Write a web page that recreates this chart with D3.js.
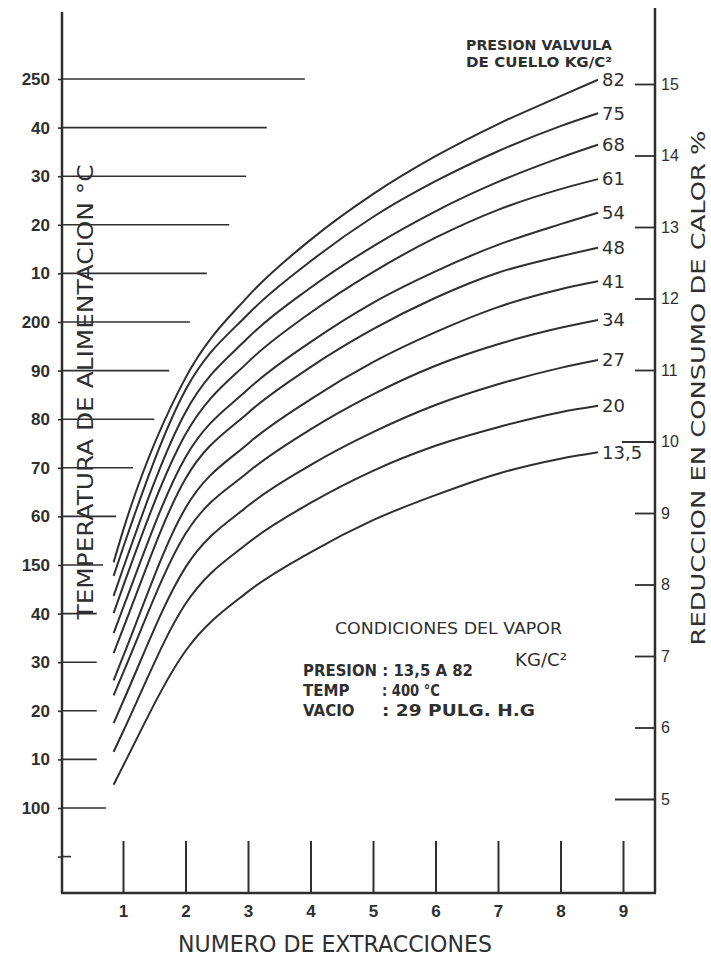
<!DOCTYPE html>
<html>
<head>
<meta charset="utf-8">
<script src="https://cdn.jsdelivr.net/npm/d3@7"></script>
<style>
  body { margin: 0; background: #fff; }
  svg { display: block; font-family: "DejaVu Sans", sans-serif; }
</style>
</head>
<body>
<svg id="chart" width="711" height="960"></svg>
<script>
// number of extractions where each curve was read
const extractions = [0.85, 1, 2, 3, 4, 5, 6, 7, 8, 8.6];

// neck valve pressure (kg/cm2), one curve each
const pressures = ["82", "75", "68", "61", "54", "48", "41", "34", "27", "20", "13,5"];

// heat consumption reduction %
const red82  = [8.31, 8.75, 10.89, 12.03, 12.82, 13.46, 13.99, 14.44, 14.83, 15.06];
const red75  = [8.12, 8.51, 10.72, 11.78, 12.52, 13.14, 13.64, 14.06, 14.41, 14.59];
const red68  = [7.84, 8.22, 10.41, 11.45, 12.15, 12.73, 13.22, 13.63, 13.97, 14.15];
const red61  = [7.60, 7.97, 10.10, 11.11, 11.80, 12.37, 12.85, 13.24, 13.53, 13.67];
const red54  = [7.32, 7.67,  9.78, 10.73, 11.39, 11.94, 12.38, 12.75, 13.04, 13.20];
const red48  = [7.04, 7.38,  9.48, 10.40, 11.04, 11.57, 12.01, 12.36, 12.59, 12.71];
const red41  = [6.66, 6.99,  9.07,  9.97, 10.59, 11.11, 11.53, 11.88, 12.13, 12.24];
const red34  = [6.45, 6.76,  8.71,  9.57, 10.17, 10.66, 11.06, 11.36, 11.59, 11.70];
const red27  = [6.06, 6.36,  8.24,  9.10,  9.67, 10.13, 10.51, 10.80, 11.03, 11.14];
const red20  = [5.66, 5.94,  7.73,  8.58,  9.14,  9.59,  9.94, 10.20, 10.41, 10.50];
const red135 = [5.20, 5.46,  7.07,  7.90,  8.45,  8.90,  9.25,  9.55,  9.76,  9.85];
const reductions = [red82, red75, red68, red61, red54, red48, red41, red34, red27, red20, red135];

// left scale: feed water temperature, with the hand-written labels
const tempTicks  = [250, 240, 230, 220, 210, 200, 190, 180, 170, 160, 150, 140, 130, 120, 110, 100, 90];
const tempLabels = ["250", "40", "30", "20", "10", "200", "90", "80", "70", "60", "150", "40", "30", "20", "10", "100", ""];
// how far each temperature line runs to the right, in extraction units
const tempLineEnd = [3.91, 3.30, 2.97, 2.70, 2.34, 2.07, 1.74, 1.50, 1.16, 0.89, 0.68, 0.58, 0.58, 0.58, 0.58, 0.73, 0.17];

const reductionTicks = [5, 6, 7, 8, 9, 10, 11, 12, 13, 14, 15];
const extractionTicks = [1, 2, 3, 4, 5, 6, 7, 8, 9];

const ink = "#2f2f2f";
const frame = { left: 62, right: 655, bottom: 893, topL: 12, topR: 8 };
const longTicks = { 10: 33, 5: 40 };   // a couple of right ticks are drawn longer

const svg = d3.select("#chart");

const x = d3.scaleLinear().domain([1, 9]).range([123, 623]);
const yRed = d3.scaleLinear().domain([5, 15]).range([799, 84]);
const yTemp = d3.scaleLinear().domain([100, 250]).range([808, 79]);

// frame
const fr = svg.append("g").attr("stroke", ink).attr("stroke-width", 2.5).attr("fill", "none");
fr.append("line").attr("x1", frame.left).attr("x2", frame.left).attr("y1", frame.topL).attr("y2", frame.bottom);
fr.append("line").attr("x1", frame.right).attr("x2", frame.right).attr("y1", frame.topR).attr("y2", frame.bottom);
fr.append("line").attr("x1", frame.left - 1).attr("x2", frame.right + 1).attr("y1", frame.bottom).attr("y2", frame.bottom);

// left temperature axis
const gL = svg.append("g")
    .attr("transform", `translate(${frame.left},0)`)
    .call(d3.axisLeft(yTemp).tickValues(tempTicks).tickFormat((d, i) => tempLabels[i])
        .tickSizeInner(4).tickSizeOuter(0).tickPadding(8));
gL.select(".domain").remove();
gL.selectAll("line").attr("stroke", ink).attr("stroke-width", 1.6);
gL.selectAll("text").attr("fill", ink).attr("font-size", 17).attr("font-weight", "bold");

svg.append("g").selectAll("line")
    .data(tempTicks)
    .join("line")
    .attr("x1", frame.left)
    .attr("x2", (d, i) => x(tempLineEnd[i]))
    .attr("y1", d => yTemp(d))
    .attr("y2", d => yTemp(d))
    .attr("stroke", ink)
    .attr("stroke-width", 1.6);

// right reduction axis
const gR = svg.append("g")
    .attr("transform", `translate(${frame.right},0)`)
    .call(d3.axisRight(yRed).tickValues(reductionTicks).tickFormat(d3.format("d"))
        .tickSizeInner(-20).tickSizeOuter(0).tickPadding(6));
gR.select(".domain").remove();
gR.selectAll("line").attr("stroke", ink).attr("stroke-width", 1.8)
    .attr("x2", d => -(longTicks[d] || 20));
gR.selectAll("text").attr("fill", ink).attr("font-size", 16);

// bottom axis, ticks standing up
const gB = svg.append("g")
    .attr("transform", `translate(0,${frame.bottom})`)
    .call(d3.axisBottom(x).tickValues(extractionTicks)
        .tickSizeInner(-52).tickSizeOuter(0).tickPadding(12));
gB.select(".domain").remove();
gB.selectAll("line").attr("stroke", ink).attr("stroke-width", 2);
gB.selectAll("text").attr("fill", ink).attr("font-size", 17).attr("font-weight", "bold");

// curves
const line = d3.line()
    .x((d, i) => x(extractions[i]))
    .y(d => yRed(d))
    .curve(d3.curveMonotoneX);

svg.append("g").selectAll("path")
    .data(reductions)
    .join("path")
    .attr("d", line)
    .attr("fill", "none")
    .attr("stroke", ink)
    .attr("stroke-width", 2);

svg.append("g").selectAll("text")
    .data(reductions)
    .join("text")
    .attr("x", x(extractions[extractions.length - 1]) + 4)
    .attr("y", d => yRed(d[d.length - 1]))
    .attr("dy", "0.35em")
    .attr("fill", ink)
    .attr("font-size", 18)
    .text((d, i) => pressures[i]);

// titles
svg.append("text")
    .attr("x", 335).attr("y", 952)
    .attr("text-anchor", "middle")
    .attr("font-size", 23)
    .attr("textLength", 314).attr("lengthAdjust", "spacingAndGlyphs")
    .attr("fill", ink)
    .text("NUMERO DE EXTRACCIONES");

svg.append("text")
    .attr("transform", "translate(93,392) rotate(-90)")
    .attr("text-anchor", "middle")
    .attr("font-size", 22)
    .attr("textLength", 455).attr("lengthAdjust", "spacingAndGlyphs")
    .attr("fill", ink)
    .text("TEMPERATURA DE ALIMENTACION °C");

svg.append("text")
    .attr("transform", "translate(705,388) rotate(-90)")
    .attr("text-anchor", "middle")
    .attr("font-size", 20)
    .attr("textLength", 515).attr("lengthAdjust", "spacingAndGlyphs")
    .attr("fill", ink)
    .text("REDUCCION EN CONSUMO DE CALOR %");

const head = svg.append("g").attr("fill", ink).attr("font-size", 14).attr("font-weight", "bold");
head.append("text").attr("x", 466).attr("y", 50)
    .attr("textLength", 146).attr("lengthAdjust", "spacingAndGlyphs").text("PRESION VALVULA");
head.append("text").attr("x", 466).attr("y", 67)
    .attr("textLength", 146).attr("lengthAdjust", "spacingAndGlyphs").text("DE CUELLO  KG/C²");

// steam conditions note
const note = svg.append("g").attr("fill", ink).attr("font-size", 16);
note.append("text").attr("x", 335).attr("y", 634)
    .attr("textLength", 227).attr("lengthAdjust", "spacingAndGlyphs").text("CONDICIONES DEL VAPOR");
note.append("text").attr("x", 303).attr("y", 676).attr("font-size", 15).attr("font-weight", "bold")
    .attr("textLength", 170).attr("lengthAdjust", "spacingAndGlyphs").text("PRESION : 13,5 A 82");
note.append("text").attr("x", 515).attr("y", 666).attr("font-size", 17)
    .attr("textLength", 52).attr("lengthAdjust", "spacingAndGlyphs").text("KG/C²");
note.append("text").attr("x", 303).attr("y", 696).attr("font-size", 15).attr("font-weight", "bold").text("TEMP");
note.append("text").attr("x", 382).attr("y", 696).attr("font-size", 15).attr("font-weight", "bold")
    .attr("textLength", 58).attr("lengthAdjust", "spacingAndGlyphs").text(": 400 °C");
note.append("text").attr("x", 303).attr("y", 716).attr("font-size", 15).attr("font-weight", "bold").text("VACIO");
note.append("text").attr("x", 382).attr("y", 716).attr("font-size", 15).attr("font-weight", "bold")
    .attr("textLength", 153).attr("lengthAdjust", "spacingAndGlyphs").text(": 29  PULG. H.G");
</script>
</body>
</html>
